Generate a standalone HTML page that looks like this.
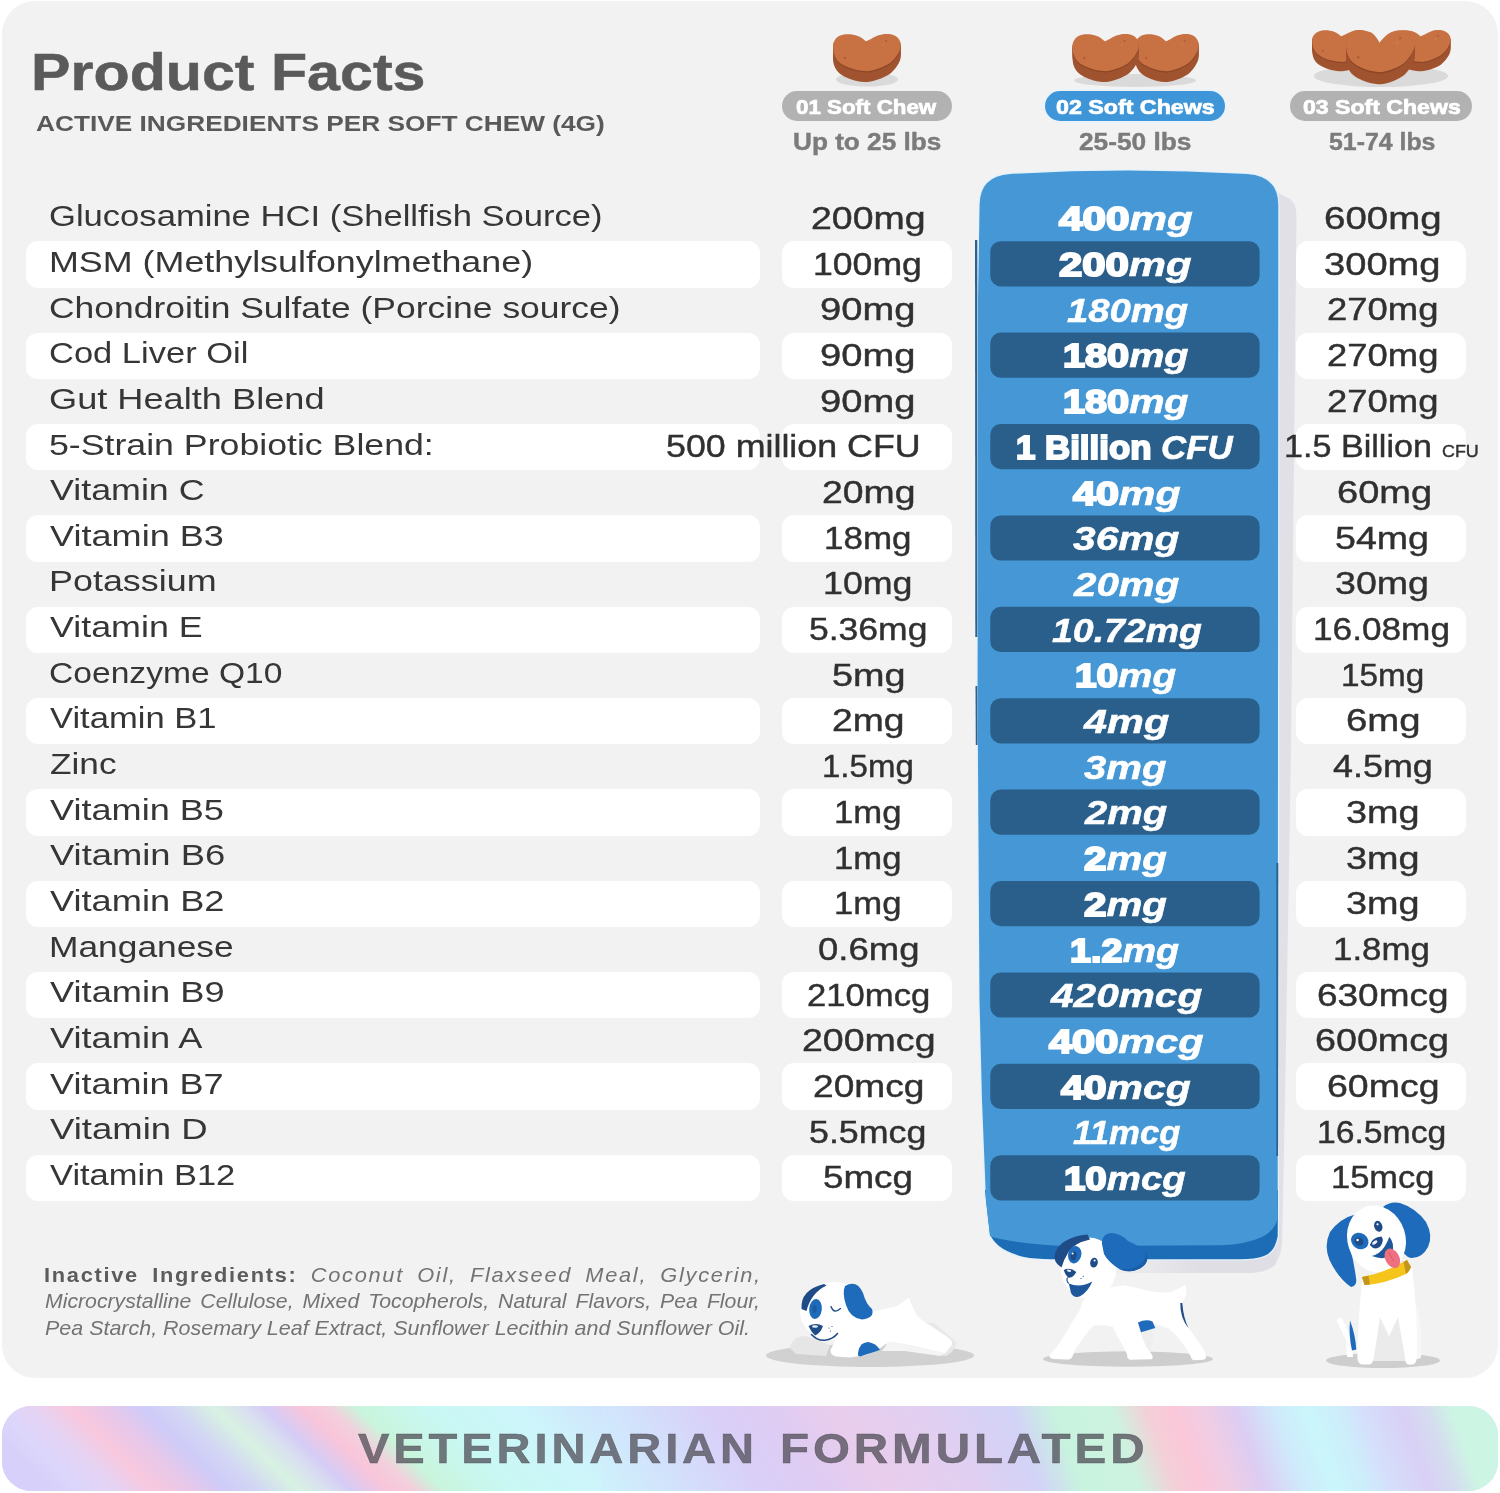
<!DOCTYPE html>
<html lang="en"><head><meta charset="utf-8"><title>Product Facts</title>
<style>
html,body{margin:0;padding:0}
body{width:1500px;height:1493px;background:#fff;position:relative;overflow:hidden;font-family:'Liberation Sans', sans-serif}
.card{position:absolute;left:1.5px;top:1px;width:1496.5px;height:1377px;border-radius:33px;background:#f2f2f2}
.s{position:absolute;height:46.4px;border-radius:12px;background:#fff}
.t{position:absolute;white-space:nowrap;transform-origin:0 0;paint-order:stroke fill}
.hp{position:absolute;top:91px;height:30.3px;border-radius:15.2px}
.banner{position:absolute;left:1.5px;top:1406px;width:1496.5px;height:85px;border-radius:29.5px;overflow:hidden;background:#d8d4f8}
svg.art{position:absolute;left:0;top:0}
.tl{position:absolute;left:0;top:0;width:1500px;height:1493px;will-change:transform;transform:translateZ(0)}
</style></head>
<body>
<div class="card"></div>
<div class="s" style="left:26px;top:241.30px;width:734.0px"></div>
<div class="s" style="left:782px;top:241.30px;width:170.3px"></div>
<div class="s" style="left:1296.3px;top:241.30px;width:170.0px"></div>
<div class="s" style="left:26px;top:332.62px;width:734.0px"></div>
<div class="s" style="left:782px;top:332.62px;width:170.3px"></div>
<div class="s" style="left:1296.3px;top:332.62px;width:170.0px"></div>
<div class="s" style="left:26px;top:423.94px;width:734.0px"></div>
<div class="s" style="left:782px;top:423.94px;width:170.3px"></div>
<div class="s" style="left:1296.3px;top:423.94px;width:170.0px"></div>
<div class="s" style="left:26px;top:515.26px;width:734.0px"></div>
<div class="s" style="left:782px;top:515.26px;width:170.3px"></div>
<div class="s" style="left:1296.3px;top:515.26px;width:170.0px"></div>
<div class="s" style="left:26px;top:606.58px;width:734.0px"></div>
<div class="s" style="left:782px;top:606.58px;width:170.3px"></div>
<div class="s" style="left:1296.3px;top:606.58px;width:170.0px"></div>
<div class="s" style="left:26px;top:697.90px;width:734.0px"></div>
<div class="s" style="left:782px;top:697.90px;width:170.3px"></div>
<div class="s" style="left:1296.3px;top:697.90px;width:170.0px"></div>
<div class="s" style="left:26px;top:789.22px;width:734.0px"></div>
<div class="s" style="left:782px;top:789.22px;width:170.3px"></div>
<div class="s" style="left:1296.3px;top:789.22px;width:170.0px"></div>
<div class="s" style="left:26px;top:880.54px;width:734.0px"></div>
<div class="s" style="left:782px;top:880.54px;width:170.3px"></div>
<div class="s" style="left:1296.3px;top:880.54px;width:170.0px"></div>
<div class="s" style="left:26px;top:971.86px;width:734.0px"></div>
<div class="s" style="left:782px;top:971.86px;width:170.3px"></div>
<div class="s" style="left:1296.3px;top:971.86px;width:170.0px"></div>
<div class="s" style="left:26px;top:1063.18px;width:734.0px"></div>
<div class="s" style="left:782px;top:1063.18px;width:170.3px"></div>
<div class="s" style="left:1296.3px;top:1063.18px;width:170.0px"></div>
<div class="s" style="left:26px;top:1154.50px;width:734.0px"></div>
<div class="s" style="left:782px;top:1154.50px;width:170.3px"></div>
<div class="s" style="left:1296.3px;top:1154.50px;width:170.0px"></div>
<div class="hp" style="left:782.3px;width:169.7px;background:#b2b2b2"></div>
<div class="hp" style="left:1045px;width:180px;background:#3e96d9;box-shadow:0 0 0 2px #e9f3fb"></div>
<div class="hp" style="left:1290.3px;width:182px;background:#b2b2b2"></div>
<svg class="art" width="1500" height="1400" viewBox="0 0 1500 1400">
<defs><linearGradient id="shg" gradientUnits="userSpaceOnUse" x1="1095" y1="0" x2="1200" y2="0"><stop offset="0" stop-color="#dfdee5" stop-opacity="0"/><stop offset="1" stop-color="#dfdee5" stop-opacity="1"/></linearGradient></defs>
<path fill="#e1e0e7" d="M1270 192 L1277 192 L1290 199 Q1296.5 204 1296.5 216 L1291 750 L1285 1100 L1282 1245 Q1280 1262 1270 1268 Z"/>
<path fill="url(#shg)" d="M1095 1250 L1276 1250 L1276 1264 Q1268 1272.5 1250 1273 L1095 1273 Z"/>
<path fill="none" stroke="#e2f1fb" stroke-width="2.6" d="M985 1190 L1278 1190 L1277.7 1236 Q1275 1252 1264 1256 Q1255 1259.2 1240 1259.2 L1052 1259.2 Q1035 1259 1024 1257 Q1008 1253 999 1246 Q992 1240 990 1234 L986 1200 Z"/>
<path fill="none" stroke="#e2f1fb" stroke-width="2.6" d="M979.6 205 Q979.8 176 1010 174 Q1128 167 1247 174 Q1278.3 176 1278.3 205 L1277.7 1219 Q1274 1231 1262 1237 Q1245 1244.5 1222 1245.3 L1068 1246 Q1030 1245 1002 1239.3 Q994 1238 990 1236 L986 1200 L982 1100 L979.5 1000 L977.6 700 L978 300 L979 240 Z"/>
<path fill="#1c6db5" d="M985 1190 L1278 1190 L1277.7 1236 Q1275 1252 1264 1256 Q1255 1259.2 1240 1259.2 L1052 1259.2 Q1035 1259 1024 1257 Q1008 1253 999 1246 Q992 1240 990 1234 L986 1200 Z"/>
<path fill="#4598d5" d="M979.6 205 Q979.8 176 1010 174 Q1128 167 1247 174 Q1278.3 176 1278.3 205 L1277.7 1219 Q1274 1231 1262 1237 Q1245 1244.5 1222 1245.3 L1068 1246 Q1030 1245 1002 1239.3 Q994 1238 990 1236 L986 1200 L982 1100 L979.5 1000 L977.6 700 L978 300 L979 240 Z"/>
<path fill="#2c628f" d="M975 240 L977.3 240 L977.3 637 L975.3 637 Z"/>
<path fill="#2c628f" d="M975.5 686 L977.3 686 L977.6 745 L975.8 745 Z"/>
<path fill="#2c628f" d="M1276.3 863 L1278.3 863 L1278.1 1156 L1276.3 1156 Z"/>
<rect x="990.3" y="241.20" width="269.3" height="45.2" rx="10.5" fill="#2a5f8b"/>
<rect x="990.3" y="332.60" width="269.3" height="45.2" rx="10.5" fill="#2a5f8b"/>
<rect x="990.3" y="424.00" width="269.3" height="45.2" rx="10.5" fill="#2a5f8b"/>
<rect x="990.3" y="515.40" width="269.3" height="45.2" rx="10.5" fill="#2a5f8b"/>
<rect x="990.3" y="606.80" width="269.3" height="45.2" rx="10.5" fill="#2a5f8b"/>
<rect x="990.3" y="698.20" width="269.3" height="45.2" rx="10.5" fill="#2a5f8b"/>
<rect x="990.3" y="789.60" width="269.3" height="45.2" rx="10.5" fill="#2a5f8b"/>
<rect x="990.3" y="881.00" width="269.3" height="45.2" rx="10.5" fill="#2a5f8b"/>
<rect x="990.3" y="972.40" width="269.3" height="45.2" rx="10.5" fill="#2a5f8b"/>
<rect x="990.3" y="1063.80" width="269.3" height="45.2" rx="10.5" fill="#2a5f8b"/>
<rect x="990.3" y="1155.20" width="269.3" height="45.2" rx="10.5" fill="#2a5f8b"/>
<defs><path id="hp" d="M32.8 7.2C30 4.5 27.5 3 24.8 2C21.5.8 18.5.2 15.2.2C12 .2 9.5.7 7.2 1.6C5 2.6 3.4 3.8 2.4 5.2C1 7.2 0 9.2 0 11.6C0 14.5.2 17 .8 19.6C1.5 22 2.6 24 4 26C6 28.5 8.5 30.2 11.2 31.6C14.5 33.3 18 34.6 21.6 35.6C26 36.7 30 37.2 34.4 37.2C39 36.8 43 35.6 47.2 34C50.5 32.7 54 31 56.8 29.2C59.5 27 62 24.2 64 21.2C65.8 18.5 67.2 16 67.6 13.2C68 10.5 67.6 8 66.4 6C65.2 4 63.6 2.6 61.6 1.6C59 .4 56.5 0 53.6 0C50.5 0 47.5.6 44.8 1.6C42 2.7 39.6 3.8 37.6 5.2C35.8 6 34 7 32.8 7.2Z"/><path id="hp2" d="M32.8 11C31 7.8 28.2 4 24.8 2C21.5.8 18.5.2 15.2.2C12 .2 9.5.7 7.2 1.6C5 2.6 3.4 3.8 2.4 5.2C1 7.2 0 9.2 0 11.6C0 14.5.2 17 .8 19.6C1.5 22 2.6 24 4 26C6 28.5 8.5 30.2 11.2 31.6C14.5 33.3 18 34.6 21.6 35.6C26 36.7 30 37.2 34.4 37.2C39 36.8 43 35.6 47.2 34C50.5 32.7 54 31 56.8 29.2C59.5 27 62 24.2 64 21.2C65.8 18.5 67.2 16 67.6 13.2C68 10.5 67.6 8 66.4 6C65.2 4 63.6 2.6 61.6 1.6C59 .4 56.5 0 53.6 0C50.5 0 47.5.6 44.8 1.6C42 2.7 39.8 4.2 37.8 6C35.6 8 34 9.6 32.8 11Z"/></defs>
<ellipse cx="867" cy="79.5" rx="31" ry="7" fill="#dadada"/>
<ellipse cx="1135" cy="80.5" rx="61" ry="6.5" fill="#dadada"/>
<ellipse cx="1381" cy="76" rx="67" ry="11" fill="#dadada"/>
<g transform="translate(833 34) scale(1.0 1.0)"><use href="#hp" y="10.80" fill="#a0532f"/><use href="#hp" y="8.64" fill="#a0532f"/><use href="#hp" y="6.48" fill="#a0532f"/><use href="#hp" y="4.32" fill="#a0532f"/><use href="#hp" y="2.16" fill="#a0532f"/><use href="#hp" y="1.2" fill="#8c4627"/><use href="#hp" fill="#c87142"/><circle cx="53" cy="7" r="1.1" fill="#b05f36"/><circle cx="12" cy="24" r="1.2" fill="#b05f36"/><circle cx="50" cy="11" r="0.8" fill="#d98557"/></g>
<g transform="translate(1135 34) scale(0.94 1)"><use href="#hp" y="10.80" fill="#a0532f"/><use href="#hp" y="8.64" fill="#a0532f"/><use href="#hp" y="6.48" fill="#a0532f"/><use href="#hp" y="4.32" fill="#a0532f"/><use href="#hp" y="2.16" fill="#a0532f"/><use href="#hp" y="1.2" fill="#8c4627"/><use href="#hp" fill="#c87142"/><circle cx="53" cy="7" r="1.1" fill="#b05f36"/><circle cx="12" cy="24" r="1.2" fill="#b05f36"/><circle cx="50" cy="11" r="0.8" fill="#d98557"/></g>
<g transform="translate(1072.5 34) scale(0.98 1)"><use href="#hp" y="10.80" fill="#a0532f"/><use href="#hp" y="8.64" fill="#a0532f"/><use href="#hp" y="6.48" fill="#a0532f"/><use href="#hp" y="4.32" fill="#a0532f"/><use href="#hp" y="2.16" fill="#a0532f"/><use href="#hp" y="1.2" fill="#8c4627"/><use href="#hp" fill="#c87142"/><circle cx="53" cy="7" r="1.1" fill="#b05f36"/><circle cx="12" cy="24" r="1.2" fill="#b05f36"/><circle cx="50" cy="11" r="0.8" fill="#d98557"/></g>
<g transform="translate(1312.2 30) scale(0.88 0.86)"><use href="#hp" y="10.80" fill="#a0532f"/><use href="#hp" y="8.64" fill="#a0532f"/><use href="#hp" y="6.48" fill="#a0532f"/><use href="#hp" y="4.32" fill="#a0532f"/><use href="#hp" y="2.16" fill="#a0532f"/><use href="#hp" y="1.2" fill="#8c4627"/><use href="#hp" fill="#c87142"/><circle cx="53" cy="7" r="1.1" fill="#b05f36"/><circle cx="12" cy="24" r="1.2" fill="#b05f36"/><circle cx="50" cy="11" r="0.8" fill="#d98557"/></g>
<g transform="translate(1392.3 30) scale(0.86 0.86)"><use href="#hp" y="10.80" fill="#a0532f"/><use href="#hp" y="8.64" fill="#a0532f"/><use href="#hp" y="6.48" fill="#a0532f"/><use href="#hp" y="4.32" fill="#a0532f"/><use href="#hp" y="2.16" fill="#a0532f"/><use href="#hp" y="1.2" fill="#8c4627"/><use href="#hp" fill="#c87142"/><circle cx="53" cy="7" r="1.1" fill="#b05f36"/><circle cx="12" cy="24" r="1.2" fill="#b05f36"/><circle cx="50" cy="11" r="0.8" fill="#d98557"/></g>
<g transform="translate(1346 30.3) scale(1.02 1.125)"><use href="#hp2" y="10.80" fill="#a0532f"/><use href="#hp2" y="8.64" fill="#a0532f"/><use href="#hp2" y="6.48" fill="#a0532f"/><use href="#hp2" y="4.32" fill="#a0532f"/><use href="#hp2" y="2.16" fill="#a0532f"/><use href="#hp2" y="1.2" fill="#8c4627"/><use href="#hp2" fill="#c87142"/><circle cx="53" cy="7" r="1.1" fill="#b05f36"/><circle cx="12" cy="24" r="1.2" fill="#b05f36"/><circle cx="50" cy="11" r="0.8" fill="#d98557"/></g>
<ellipse cx="870" cy="1355.5" rx="104" ry="11.5" fill="#d1d1d1"/>
<path fill="#e6e6e6" d="M790 1348 Q792 1336 806 1336 L830 1345 L826 1356 L796 1354 Z"/>
<path fill="#e8e8e8" d="M905 1338 Q925 1320 934 1323 Q945 1332 957 1343 L952 1352 L946 1356 L900 1350 Z"/>
<path fill="#fff" d="M845 1322 L872.5 1311.7 L883.3 1309.2 L895 1306.7 Q900 1305 903.3 1301.7 L908.3 1297.7 Q910 1299 910.8 1303.3 L916.7 1315 Q921 1320 926.7 1323.3 L938.3 1330.8 L948.3 1337.5 Q952.5 1340.5 952 1344 Q951 1347 949.2 1348.3 L945 1353.3 L933.3 1350.8 L916.7 1346.7 L900 1343.3 L888.3 1342 L880 1348.3 L866.7 1355 L850 1357.5 L836 1356.5 Q830 1355 830.5 1350 Z"/>
<path fill="#f4f4f4" d="M888.3 1342 L900 1343.3 L933.3 1350.8 L945 1353.3 L940 1356 L905 1351 L882 1351 Z"/>
<ellipse cx="832.5" cy="1311" rx="32.5" ry="29" fill="#fff" transform="rotate(-8 832 1311)"/>
<path fill="#1f4b87" d="M801.5 1309 Q800 1290 824 1284 L826.5 1285.5 Q811 1293 806.5 1311 Z"/>
<ellipse cx="815.5" cy="1309" rx="6.3" ry="10" fill="#1e6bbb" transform="rotate(6 815 1309)"/>
<ellipse cx="814.5" cy="1309" rx="2" ry="4" fill="#195ca4"/>
<path fill="#1e6bbb" d="M845 1286 Q857 1279 863 1293 Q866 1304 872 1309 Q875 1318 862 1319.5 Q850 1318 846 1305 Q842 1293 845 1286 Z"/>
<path fill="none" stroke="#1f4b87" stroke-width="1.3" stroke-linecap="round" d="M831 1306.5 Q834 1314.5 840.5 1308.5"/>
<path fill="#1f4b87" d="M808.5 1326 Q816 1322 823 1326 Q820 1334 815 1335.5 Q811 1332 808.5 1326 Z"/>
<ellipse cx="815" cy="1326.5" rx="3" ry="1.3" fill="#e8eef6"/>
<path fill="none" stroke="#1f4b87" stroke-width="1.6" stroke-linecap="round" d="M811.5 1334.5 Q818 1341.5 826 1340 Q833 1339 837.5 1333.5"/>
<circle cx="829" cy="1328" r=".6" fill="#1f4b87"/><circle cx="832" cy="1326.5" r=".6" fill="#1f4b87"/><circle cx="830.5" cy="1331" r=".6" fill="#1f4b87"/>
<path fill="#1e6bbb" d="M858 1355.5 Q858 1343 868 1342 Q876 1343 880 1350 L860 1356.5 Z"/>
<ellipse cx="1128" cy="1359" rx="85" ry="7.7" fill="#cecece"/>
<path fill="#efefef" d="M1140 1328 L1154 1326 L1153 1340 L1150 1354 L1143 1354 Z"/>
<path fill="#fff" d="M1086 1298 Q1100 1288 1123.3 1285.3 L1136.7 1288 L1150 1291.3 L1163.3 1292.7 L1171.3 1292 L1179.3 1288 L1185.5 1284.8 L1186.5 1292 Q1186 1299 1180.7 1302.7 Q1179.5 1311 1183.3 1321.3 Q1186 1326 1188.7 1328 L1195.3 1337.3 L1202 1346.7 Q1206 1353 1206.3 1356.5 Q1206 1359.5 1203 1359.8 L1194 1360.3 Q1191 1359.5 1191 1357 L1186 1348 L1176.7 1336 L1168.7 1328.5 L1160.7 1325.5 L1152 1323 L1137 1321.5 L1140.7 1333.3 L1146 1346.7 L1152 1354.7 Q1154 1358.5 1151 1359.3 L1130 1359.8 Q1126.5 1358.5 1127.3 1354.7 L1123.3 1346.7 L1118 1337.3 L1112.7 1326.7 L1104.7 1325.3 L1094 1325.5 L1088.7 1330.7 L1082 1340 L1075.3 1349.3 L1072.7 1356 Q1071.5 1359.3 1068 1359.6 L1053 1359 Q1048.5 1358 1050 1354.5 L1056.7 1346.7 L1064.7 1334.7 L1072.7 1321.3 L1079.3 1310.7 L1083.3 1300 Z"/>
<path fill="#1e6bbb" d="M1138 1322.5 Q1146 1318.5 1152.5 1321.5 L1155.3 1328 L1141 1332.3 Z"/>
<path fill="#1f4b87" d="M1180.3 1303 Q1180 1318 1188.8 1328.5 Q1183.5 1319 1182.3 1303 Z"/>
<ellipse cx="1088.5" cy="1268" rx="28" ry="30.5" fill="#fff"/>
<path fill="#1f4b87" d="M1061.5 1267.5 Q1052 1262 1055.5 1252 Q1062 1237 1087.5 1234.5 L1090 1239.5 Q1074 1243 1068.5 1252 Q1063.5 1260 1061.5 1267.5 Z"/>
<ellipse cx="1074.7" cy="1254.7" rx="6.6" ry="8.8" fill="#1e6bbb" transform="rotate(14 1074.7 1254.7)"/>
<ellipse cx="1073.6" cy="1256" rx="3" ry="4.5" fill="#1f4b87" transform="rotate(14 1073.6 1256)"/>
<circle cx="1072.6" cy="1253.6" r="1" fill="#fff"/>
<ellipse cx="1094" cy="1262.7" rx="3.8" ry="4.9" fill="#1f4b87" transform="rotate(10 1094 1262.7)"/>
<circle cx="1094.6" cy="1260.4" r="1" fill="#fff"/>
<path fill="#1e6bbb" d="M1102 1244 Q1101.5 1234 1111 1233 Q1120 1233 1128 1241 Q1140 1246 1146 1253 Q1150.5 1262 1140 1268.5 Q1130 1273.5 1120 1269.5 Q1108 1262 1104 1254 Z"/>
<path fill="#1a5ea7" d="M1146 1253 Q1150.5 1262 1140 1268.5 Q1130 1273.5 1120 1269.5 Q1132 1270 1139 1265 Q1146 1260 1146 1253 Z"/>
<path fill="#1f4b87" d="M1063.8 1270 Q1070 1266.5 1076.3 1272 Q1073 1278.5 1068 1277.5 Q1065 1275 1063.8 1270 Z"/>
<ellipse cx="1069" cy="1270.8" rx="2.2" ry="1.1" fill="#e8eef6" transform="rotate(15 1069 1270.8)"/>
<path fill="none" stroke="#1f4b87" stroke-width="1.1" d="M1067.5 1277.5 Q1066 1281 1068.8 1283.5"/>
<path fill="#1f579b" d="M1068.8 1283.5 Q1080 1288.5 1092.3 1281.5 Q1088 1292 1080 1296.3 Q1074 1298.5 1071 1293 Z"/>
<circle cx="1081" cy="1278.5" r=".6" fill="#1f4b87"/><circle cx="1083.2" cy="1276.3" r=".6" fill="#1f4b87"/>
<ellipse cx="1383" cy="1360.5" rx="57" ry="7.6" fill="#cecece"/>
<path fill="#fff" d="M1336.5 1320 Q1340 1316 1343 1320.5 L1352 1339 L1353 1357 L1347 1357 L1346 1340 Z"/>
<path fill="#1e6bbb" d="M1350 1320.5 Q1355.5 1335 1356.3 1349.5 L1352 1350.5 Q1348.5 1335 1350 1320.5 Z"/>
<path fill="#ebebeb" d="M1376 1318 L1402 1318 L1409 1361 L1370 1361 Z"/>
<path fill="#f7f7f7" d="M1414 1300 Q1423 1320 1421 1358 L1414 1360 Z"/>
<path fill="#fff" d="M1362 1282 L1412 1268 Q1417.5 1310 1417 1355 Q1417 1364.5 1412 1364.5 L1408 1364.5 Q1405 1364 1405 1357 L1398 1317 L1389 1336.5 L1380 1317 L1374 1357 Q1373 1364.5 1369 1364.5 L1362 1364.5 Q1357 1364 1357.3 1355 Q1358 1320 1362 1282 Z"/>
<path fill="#1e6bbb" d="M1357 1214 Q1340 1218 1330 1232 Q1323.5 1246 1329.5 1260 Q1338 1278 1351 1287 Q1357.5 1286 1356 1278 Q1354 1262 1350 1248 Q1345 1232 1352 1220 Z"/>
<path fill="#1e6bbb" d="M1383 1207 Q1390 1201 1400 1203 Q1416 1208 1426 1222 Q1433.5 1236 1428 1247 Q1422 1258.5 1411 1258 Q1403 1256 1401 1246 Q1400 1232 1394 1222 Q1388 1213 1383 1207 Z"/>
<ellipse cx="1376.5" cy="1239" rx="29" ry="34" fill="#fff" transform="rotate(-18 1376.5 1239)"/>
<path fill="#f6c51c" d="M1362 1277 Q1385 1273 1407 1260 L1411 1267 Q1409 1272 1406 1274 Q1385 1284 1364.5 1285 Z"/>
<path fill="#c4951c" d="M1362 1277 L1368.5 1275.8 L1370 1284.5 L1364.5 1285 Z"/>
<path fill="#c4951c" d="M1403.5 1262 L1407 1260 L1411 1267 Q1409 1272 1406 1274 Z"/>
<ellipse cx="1359.8" cy="1241" rx="9.2" ry="7.8" fill="#1e6bbb" transform="rotate(35 1359.8 1241)"/>
<ellipse cx="1359" cy="1241.5" rx="4.6" ry="4" fill="#1f4b87" transform="rotate(35 1359 1241.5)"/>
<circle cx="1357.6" cy="1240" r="1.2" fill="#fff"/>
<ellipse cx="1378.3" cy="1226.3" rx="4" ry="5.6" fill="#1f4b87" transform="rotate(-20 1378.3 1226.3)"/>
<circle cx="1377.5" cy="1224.3" r="1.1" fill="#fff"/>
<path fill="#1f579b" d="M1371.8 1256 Q1380 1254 1385 1246 Q1388 1241 1389.3 1236.8 Q1395.3 1244 1392 1253 Q1386 1261.5 1371.8 1256 Z"/>
<path fill="#1f4b87" d="M1369.8 1245 Q1372.3 1237.3 1381.5 1236.6 Q1384.8 1241 1380 1246.8 Q1374.3 1250.8 1369.8 1245 Z"/>
<ellipse cx="1374.8" cy="1242.6" rx="3" ry="1.5" fill="#eef2f8" transform="rotate(-35 1374.8 1242.6)"/>
<ellipse cx="1392.3" cy="1258.3" rx="7" ry="10.3" fill="#ef7080" transform="rotate(-28 1392.3 1258.3)"/>
<path fill="none" stroke="#d95a6c" stroke-width="1" d="M1388.5 1252 L1393.5 1261"/>
</svg>
<div class="banner"><div style="position:absolute;left:0px;top:0;width:600px;height:85px;background:linear-gradient(44deg,#d6d0fa -12px,#d6d0fa 30px,#dcd6fb 57px,#e6d3f3 82px,#f8c8de 107px,#e6c8ea 134px,#cfcbf8 157px,#d2d6f4 179px,#d8f2e2 207px,#d9dff0 228px,#d5ccf6 243px,#f9c5da 269px,#f3cfdc 287px,#c9f5dc 307px,#c9f8f4 356px,#cdf5fb 419px,#d2e2fc 481px,#d9d0f8 537px)"></div><div style="position:absolute;left:600px;top:0;width:390px;height:85px;background:linear-gradient(57deg,#c9f8f4 -87px,#cdf5fb -12px,#d2e2fc 64px,#d9d0f8 131px,#deccf4 181px,#e9cdec 240px,#e1cff1 315px,#d2d3f7 378px,#c8f3df 414px)"></div><div style="position:absolute;left:990px;top:0;width:506.5px;height:85px;background:linear-gradient(70deg,#e9cdec -109px,#e1cff1 -24px,#d2d3f7 46px,#c8f3df 86px,#cdf3e0 140px,#f3d0d8 173px,#fbc7d9 198px,#f1cde3 224px,#dccdf3 257px,#cfeafb 293px,#caf6fb 323px,#cdeefb 351px,#d5dffb 376px,#d9d0f6 412px,#d5dcef 436px,#cdf5e4 460px,#cdf5e4 549px)"></div></div>
<div class="tl">
<div class="t" style="left:31.37px;top:46.28px;font-size:52px;line-height:52px;color:#5a5a5a;transform:scaleX(1.1378)"><span style="font-weight:700;-webkit-text-stroke:0.5px currentColor">Product Facts</span></div>
<div class="t" style="left:35.50px;top:113.32px;font-size:21.6px;line-height:21.6px;color:#595959;transform:scaleX(1.2155)"><span style="font-weight:700">ACTIVE INGREDIENTS PER SOFT CHEW (4G)</span></div>
<div class="t" style="left:795.88px;top:96.76px;font-size:20.6px;line-height:20.6px;color:#fff;transform:scaleX(1.0841)"><span style="font-weight:700;-webkit-text-stroke:0.7px currentColor">01 Soft Chew</span></div>
<div class="t" style="left:1056.39px;top:96.76px;font-size:20.6px;line-height:20.6px;color:#fff;transform:scaleX(1.1276)"><span style="font-weight:700;-webkit-text-stroke:0.7px currentColor">02 Soft Chews</span></div>
<div class="t" style="left:1302.89px;top:96.76px;font-size:20.6px;line-height:20.6px;color:#fff;transform:scaleX(1.1205)"><span style="font-weight:700;-webkit-text-stroke:0.7px currentColor">03 Soft Chews</span></div>
<div class="t" style="left:792.79px;top:130.93px;font-size:23px;line-height:23px;color:#7b7b7b;transform:scaleX(1.1376)"><span style="font-weight:700;-webkit-text-stroke:0.4px currentColor">Up to 25 lbs</span></div>
<div class="t" style="left:1079.23px;top:130.93px;font-size:23px;line-height:23px;color:#7b7b7b;transform:scaleX(1.1422)"><span style="font-weight:700;-webkit-text-stroke:0.4px currentColor">25-50 lbs</span></div>
<div class="t" style="left:1329.22px;top:130.93px;font-size:23px;line-height:23px;color:#7b7b7b;transform:scaleX(1.0810)"><span style="font-weight:700;-webkit-text-stroke:0.4px currentColor">51-74 lbs</span></div>
<div class="t" style="left:49.05px;top:201.20px;font-size:30px;line-height:30px;color:#363636;transform:scaleX(1.1529)">Glucosamine HCI (Shellfish Source)</div>
<div class="t" style="left:49.11px;top:246.86px;font-size:30px;line-height:30px;color:#363636;transform:scaleX(1.1949)">MSM (Methylsulfonylmethane)</div>
<div class="t" style="left:49.02px;top:292.52px;font-size:30px;line-height:30px;color:#363636;transform:scaleX(1.1821)">Chondroitin Sulfate (Porcine source)</div>
<div class="t" style="left:49.05px;top:338.19px;font-size:30px;line-height:30px;color:#363636;transform:scaleX(1.1498)">Cod Liver Oil</div>
<div class="t" style="left:48.99px;top:383.85px;font-size:30px;line-height:30px;color:#363636;transform:scaleX(1.2060)">Gut Health Blend</div>
<div class="t" style="left:49.01px;top:429.50px;font-size:30px;line-height:30px;color:#363636;transform:scaleX(1.1894)">5-Strain Probiotic Blend:</div>
<div class="t" style="left:50.20px;top:475.16px;font-size:30px;line-height:30px;color:#363636;transform:scaleX(1.1938)">Vitamin C</div>
<div class="t" style="left:50.20px;top:520.83px;font-size:30px;line-height:30px;color:#363636;transform:scaleX(1.2034)">Vitamin B3</div>
<div class="t" style="left:49.11px;top:566.49px;font-size:30px;line-height:30px;color:#363636;transform:scaleX(1.1965)">Potassium</div>
<div class="t" style="left:50.20px;top:612.14px;font-size:30px;line-height:30px;color:#363636;transform:scaleX(1.1945)">Vitamin E</div>
<div class="t" style="left:49.08px;top:657.80px;font-size:30px;line-height:30px;color:#363636;transform:scaleX(1.1202)">Coenzyme Q10</div>
<div class="t" style="left:50.20px;top:703.47px;font-size:30px;line-height:30px;color:#363636;transform:scaleX(1.1527)">Vitamin B1</div>
<div class="t" style="left:50.20px;top:749.12px;font-size:30px;line-height:30px;color:#363636;transform:scaleX(1.1751)">Zinc</div>
<div class="t" style="left:50.20px;top:794.78px;font-size:30px;line-height:30px;color:#363636;transform:scaleX(1.2034)">Vitamin B5</div>
<div class="t" style="left:50.20px;top:840.45px;font-size:30px;line-height:30px;color:#363636;transform:scaleX(1.2118)">Vitamin B6</div>
<div class="t" style="left:50.20px;top:886.11px;font-size:30px;line-height:30px;color:#363636;transform:scaleX(1.2069)">Vitamin B2</div>
<div class="t" style="left:49.14px;top:931.76px;font-size:30px;line-height:30px;color:#363636;transform:scaleX(1.1778)">Manganese</div>
<div class="t" style="left:50.20px;top:977.42px;font-size:30px;line-height:30px;color:#363636;transform:scaleX(1.2083)">Vitamin B9</div>
<div class="t" style="left:50.20px;top:1023.08px;font-size:30px;line-height:30px;color:#363636;transform:scaleX(1.2071)">Vitamin A</div>
<div class="t" style="left:50.20px;top:1068.74px;font-size:30px;line-height:30px;color:#363636;transform:scaleX(1.2014)">Vitamin B7</div>
<div class="t" style="left:50.20px;top:1114.40px;font-size:30px;line-height:30px;color:#363636;transform:scaleX(1.2171)">Vitamin D</div>
<div class="t" style="left:50.20px;top:1160.06px;font-size:30px;line-height:30px;color:#363636;transform:scaleX(1.1494)">Vitamin B12</div>
<div class="t" style="left:810.56px;top:202.94px;font-size:31.5px;line-height:31.5px;color:#303030;transform:scaleX(1.1898)"><span style="-webkit-text-stroke:0.42px currentColor">200mg</span></div>
<div class="t" style="left:812.98px;top:248.62px;font-size:31.5px;line-height:31.5px;color:#303030;transform:scaleX(1.1307)"><span style="-webkit-text-stroke:0.42px currentColor">100mg</span></div>
<div class="t" style="left:820.24px;top:294.31px;font-size:31.5px;line-height:31.5px;color:#303030;transform:scaleX(1.2100)"><span style="-webkit-text-stroke:0.42px currentColor">90mg</span></div>
<div class="t" style="left:820.24px;top:339.99px;font-size:31.5px;line-height:31.5px;color:#303030;transform:scaleX(1.2100)"><span style="-webkit-text-stroke:0.42px currentColor">90mg</span></div>
<div class="t" style="left:820.24px;top:385.68px;font-size:31.5px;line-height:31.5px;color:#303030;transform:scaleX(1.2100)"><span style="-webkit-text-stroke:0.42px currentColor">90mg</span></div>
<div class="t" style="left:666.10px;top:431.36px;font-size:31.5px;line-height:31.5px;color:#303030;transform:scaleX(1.1365)"><span style="-webkit-text-stroke:0.42px currentColor">500 million CFU</span></div>
<div class="t" style="left:821.56px;top:477.05px;font-size:31.5px;line-height:31.5px;color:#303030;transform:scaleX(1.1865)"><span style="-webkit-text-stroke:0.42px currentColor">20mg</span></div>
<div class="t" style="left:824.01px;top:522.73px;font-size:31.5px;line-height:31.5px;color:#303030;transform:scaleX(1.1097)"><span style="-webkit-text-stroke:0.42px currentColor">18mg</span></div>
<div class="t" style="left:822.97px;top:568.42px;font-size:31.5px;line-height:31.5px;color:#303030;transform:scaleX(1.1361)"><span style="-webkit-text-stroke:0.42px currentColor">10mg</span></div>
<div class="t" style="left:809.11px;top:614.10px;font-size:31.5px;line-height:31.5px;color:#303030;transform:scaleX(1.1266)"><span style="-webkit-text-stroke:0.42px currentColor">5.36mg</span></div>
<div class="t" style="left:831.55px;top:659.79px;font-size:31.5px;line-height:31.5px;color:#303030;transform:scaleX(1.1998)"><span style="-webkit-text-stroke:0.42px currentColor">5mg</span></div>
<div class="t" style="left:831.57px;top:705.47px;font-size:31.5px;line-height:31.5px;color:#303030;transform:scaleX(1.1829)"><span style="-webkit-text-stroke:0.42px currentColor">2mg</span></div>
<div class="t" style="left:822.12px;top:751.16px;font-size:31.5px;line-height:31.5px;color:#303030;transform:scaleX(1.0480)"><span style="-webkit-text-stroke:0.42px currentColor">1.5mg</span></div>
<div class="t" style="left:834.03px;top:796.84px;font-size:31.5px;line-height:31.5px;color:#303030;transform:scaleX(1.1001)"><span style="-webkit-text-stroke:0.42px currentColor">1mg</span></div>
<div class="t" style="left:834.03px;top:842.53px;font-size:31.5px;line-height:31.5px;color:#303030;transform:scaleX(1.1001)"><span style="-webkit-text-stroke:0.42px currentColor">1mg</span></div>
<div class="t" style="left:834.03px;top:888.21px;font-size:31.5px;line-height:31.5px;color:#303030;transform:scaleX(1.1001)"><span style="-webkit-text-stroke:0.42px currentColor">1mg</span></div>
<div class="t" style="left:817.58px;top:933.90px;font-size:31.5px;line-height:31.5px;color:#303030;transform:scaleX(1.1586)"><span style="-webkit-text-stroke:0.42px currentColor">0.6mg</span></div>
<div class="t" style="left:806.63px;top:979.58px;font-size:31.5px;line-height:31.5px;color:#303030;transform:scaleX(1.1003)"><span style="-webkit-text-stroke:0.42px currentColor">210mcg</span></div>
<div class="t" style="left:801.56px;top:1025.27px;font-size:31.5px;line-height:31.5px;color:#303030;transform:scaleX(1.1913)"><span style="-webkit-text-stroke:0.42px currentColor">200mcg</span></div>
<div class="t" style="left:812.57px;top:1070.95px;font-size:31.5px;line-height:31.5px;color:#303030;transform:scaleX(1.1790)"><span style="-webkit-text-stroke:0.42px currentColor">20mcg</span></div>
<div class="t" style="left:809.10px;top:1116.64px;font-size:31.5px;line-height:31.5px;color:#303030;transform:scaleX(1.1364)"><span style="-webkit-text-stroke:0.42px currentColor">5.5mcg</span></div>
<div class="t" style="left:823.08px;top:1162.32px;font-size:31.5px;line-height:31.5px;color:#303030;transform:scaleX(1.1678)"><span style="-webkit-text-stroke:0.42px currentColor">5mcg</span></div>
<div class="t" style="left:1324.04px;top:202.94px;font-size:31.5px;line-height:31.5px;color:#303030;transform:scaleX(1.2206)"><span style="-webkit-text-stroke:0.42px currentColor">600mg</span></div>
<div class="t" style="left:1324.04px;top:248.62px;font-size:31.5px;line-height:31.5px;color:#303030;transform:scaleX(1.2100)"><span style="-webkit-text-stroke:0.42px currentColor">300mg</span></div>
<div class="t" style="left:1326.59px;top:294.31px;font-size:31.5px;line-height:31.5px;color:#303030;transform:scaleX(1.1569)"><span style="-webkit-text-stroke:0.42px currentColor">270mg</span></div>
<div class="t" style="left:1326.59px;top:339.99px;font-size:31.5px;line-height:31.5px;color:#303030;transform:scaleX(1.1569)"><span style="-webkit-text-stroke:0.42px currentColor">270mg</span></div>
<div class="t" style="left:1326.59px;top:385.68px;font-size:31.5px;line-height:31.5px;color:#303030;transform:scaleX(1.1569)"><span style="-webkit-text-stroke:0.42px currentColor">270mg</span></div>
<div class="t" style="left:1336.55px;top:477.05px;font-size:31.5px;line-height:31.5px;color:#303030;transform:scaleX(1.2060)"><span style="-webkit-text-stroke:0.42px currentColor">60mg</span></div>
<div class="t" style="left:1335.06px;top:522.73px;font-size:31.5px;line-height:31.5px;color:#303030;transform:scaleX(1.1930)"><span style="-webkit-text-stroke:0.42px currentColor">54mg</span></div>
<div class="t" style="left:1335.06px;top:568.42px;font-size:31.5px;line-height:31.5px;color:#303030;transform:scaleX(1.1930)"><span style="-webkit-text-stroke:0.42px currentColor">30mg</span></div>
<div class="t" style="left:1313.00px;top:614.10px;font-size:31.5px;line-height:31.5px;color:#303030;transform:scaleX(1.1173)"><span style="-webkit-text-stroke:0.42px currentColor">16.08mg</span></div>
<div class="t" style="left:1340.61px;top:659.79px;font-size:31.5px;line-height:31.5px;color:#303030;transform:scaleX(1.0568)"><span style="-webkit-text-stroke:0.42px currentColor">15mg</span></div>
<div class="t" style="left:1345.54px;top:705.47px;font-size:31.5px;line-height:31.5px;color:#303030;transform:scaleX(1.2167)"><span style="-webkit-text-stroke:0.42px currentColor">6mg</span></div>
<div class="t" style="left:1332.74px;top:751.16px;font-size:31.5px;line-height:31.5px;color:#303030;transform:scaleX(1.1394)"><span style="-webkit-text-stroke:0.42px currentColor">4.5mg</span></div>
<div class="t" style="left:1345.55px;top:796.84px;font-size:31.5px;line-height:31.5px;color:#303030;transform:scaleX(1.1998)"><span style="-webkit-text-stroke:0.42px currentColor">3mg</span></div>
<div class="t" style="left:1345.55px;top:842.53px;font-size:31.5px;line-height:31.5px;color:#303030;transform:scaleX(1.1998)"><span style="-webkit-text-stroke:0.42px currentColor">3mg</span></div>
<div class="t" style="left:1345.55px;top:888.21px;font-size:31.5px;line-height:31.5px;color:#303030;transform:scaleX(1.1998)"><span style="-webkit-text-stroke:0.42px currentColor">3mg</span></div>
<div class="t" style="left:1333.02px;top:933.90px;font-size:31.5px;line-height:31.5px;color:#303030;transform:scaleX(1.1072)"><span style="-webkit-text-stroke:0.42px currentColor">1.8mg</span></div>
<div class="t" style="left:1316.57px;top:979.58px;font-size:31.5px;line-height:31.5px;color:#303030;transform:scaleX(1.1731)"><span style="-webkit-text-stroke:0.42px currentColor">630mcg</span></div>
<div class="t" style="left:1315.06px;top:1025.27px;font-size:31.5px;line-height:31.5px;color:#303030;transform:scaleX(1.1958)"><span style="-webkit-text-stroke:0.42px currentColor">600mcg</span></div>
<div class="t" style="left:1326.56px;top:1070.95px;font-size:31.5px;line-height:31.5px;color:#303030;transform:scaleX(1.1899)"><span style="-webkit-text-stroke:0.42px currentColor">60mcg</span></div>
<div class="t" style="left:1317.08px;top:1116.64px;font-size:31.5px;line-height:31.5px;color:#303030;transform:scaleX(1.0704)"><span style="-webkit-text-stroke:0.42px currentColor">16.5mcg</span></div>
<div class="t" style="left:1330.54px;top:1162.32px;font-size:31.5px;line-height:31.5px;color:#303030;transform:scaleX(1.0935)"><span style="-webkit-text-stroke:0.42px currentColor">15mcg</span></div>
<div class="t" style="left:1284.06px;top:431.36px;font-size:31.5px;line-height:31.5px;color:#303030;transform:scaleX(1.0833)"><span style="-webkit-text-stroke:0.42px currentColor">1.5 Billion</span></div>
<div class="t" style="left:1442.21px;top:443.80px;font-size:16.8px;line-height:16.8px;color:#303030;transform:scaleX(1.0660)"><span style="-webkit-text-stroke:0.4px currentColor">CFU</span></div>
<div class="t" style="left:1059.26px;top:202.24px;font-size:33.5px;line-height:33.5px;color:#fff;transform:scaleX(1.2593)"><span style="font-weight:700;-webkit-text-stroke:2.0px currentColor">400</span><span style="font-weight:700;font-style:italic;-webkit-text-stroke:0.6px currentColor">mg</span></div>
<div class="t" style="left:1059.20px;top:247.95px;font-size:33.5px;line-height:33.5px;color:#fff;transform:scaleX(1.2486)"><span style="font-weight:700;-webkit-text-stroke:2.0px currentColor">200</span><span style="font-weight:700;font-style:italic;-webkit-text-stroke:0.6px currentColor">mg</span></div>
<div class="t" style="left:1066.69px;top:293.66px;font-size:33.5px;line-height:33.5px;color:#fff;transform:scaleX(1.1415)"><span style="font-weight:700;font-style:italic;-webkit-text-stroke:0.5px currentColor">180mg</span></div>
<div class="t" style="left:1062.82px;top:339.37px;font-size:33.5px;line-height:33.5px;color:#fff;transform:scaleX(1.1828)"><span style="font-weight:700;-webkit-text-stroke:2.0px currentColor">180</span><span style="font-weight:700;font-style:italic;-webkit-text-stroke:0.6px currentColor">mg</span></div>
<div class="t" style="left:1062.82px;top:385.08px;font-size:33.5px;line-height:33.5px;color:#fff;transform:scaleX(1.1828)"><span style="font-weight:700;-webkit-text-stroke:2.0px currentColor">180</span><span style="font-weight:700;font-style:italic;-webkit-text-stroke:0.6px currentColor">mg</span></div>
<div class="t" style="left:1016.46px;top:430.79px;font-size:33.5px;line-height:33.5px;color:#fff;transform:scaleX(1.0394)"><span style="font-weight:700;-webkit-text-stroke:2.0px currentColor">1 Billion </span><span style="font-weight:700;font-style:italic;-webkit-text-stroke:0.6px currentColor">CFU</span></div>
<div class="t" style="left:1072.73px;top:476.50px;font-size:33.5px;line-height:33.5px;color:#fff;transform:scaleX(1.2297)"><span style="font-weight:700;-webkit-text-stroke:2.0px currentColor">40</span><span style="font-weight:700;font-style:italic;-webkit-text-stroke:0.6px currentColor">mg</span></div>
<div class="t" style="left:1072.80px;top:522.21px;font-size:33.5px;line-height:33.5px;color:#fff;transform:scaleX(1.2165)"><span style="font-weight:700;font-style:italic;-webkit-text-stroke:0.5px currentColor">36mg</span></div>
<div class="t" style="left:1074.00px;top:567.92px;font-size:33.5px;line-height:33.5px;color:#fff;transform:scaleX(1.2027)"><span style="font-weight:700;font-style:italic;-webkit-text-stroke:0.5px currentColor">20mg</span></div>
<div class="t" style="left:1051.78px;top:613.63px;font-size:33.5px;line-height:33.5px;color:#fff;transform:scaleX(1.1184)"><span style="font-weight:700;font-style:italic;-webkit-text-stroke:0.5px currentColor">10.72mg</span></div>
<div class="t" style="left:1074.85px;top:659.34px;font-size:33.5px;line-height:33.5px;color:#fff;transform:scaleX(1.1545)"><span style="font-weight:700;-webkit-text-stroke:2.0px currentColor">10</span><span style="font-weight:700;font-style:italic;-webkit-text-stroke:0.6px currentColor">mg</span></div>
<div class="t" style="left:1084.05px;top:705.05px;font-size:33.5px;line-height:33.5px;color:#fff;transform:scaleX(1.2372)"><span style="font-weight:700;font-style:italic;-webkit-text-stroke:0.5px currentColor">4mg</span></div>
<div class="t" style="left:1084.30px;top:750.76px;font-size:33.5px;line-height:33.5px;color:#fff;transform:scaleX(1.1971)"><span style="font-weight:700;font-style:italic;-webkit-text-stroke:0.5px currentColor">3mg</span></div>
<div class="t" style="left:1085.49px;top:796.47px;font-size:33.5px;line-height:33.5px;color:#fff;transform:scaleX(1.1943)"><span style="font-weight:700;font-style:italic;-webkit-text-stroke:0.5px currentColor">2mg</span></div>
<div class="t" style="left:1084.00px;top:842.18px;font-size:33.5px;line-height:33.5px;color:#fff;transform:scaleX(1.2029)"><span style="font-weight:700;-webkit-text-stroke:2.0px currentColor">2</span><span style="font-weight:700;font-style:italic;-webkit-text-stroke:0.6px currentColor">mg</span></div>
<div class="t" style="left:1084.00px;top:887.89px;font-size:33.5px;line-height:33.5px;color:#fff;transform:scaleX(1.2029)"><span style="font-weight:700;-webkit-text-stroke:2.0px currentColor">2</span><span style="font-weight:700;font-style:italic;-webkit-text-stroke:0.6px currentColor">mg</span></div>
<div class="t" style="left:1070.37px;top:933.60px;font-size:33.5px;line-height:33.5px;color:#fff;transform:scaleX(1.1260)"><span style="font-weight:700;-webkit-text-stroke:2.0px currentColor">1.2</span><span style="font-weight:700;font-style:italic;-webkit-text-stroke:0.6px currentColor">mg</span></div>
<div class="t" style="left:1050.52px;top:979.31px;font-size:33.5px;line-height:33.5px;color:#fff;transform:scaleX(1.2121)"><span style="font-weight:700;font-style:italic;-webkit-text-stroke:0.5px currentColor">420mcg</span></div>
<div class="t" style="left:1048.74px;top:1025.02px;font-size:33.5px;line-height:33.5px;color:#fff;transform:scaleX(1.2390)"><span style="font-weight:700;-webkit-text-stroke:2.0px currentColor">400</span><span style="font-weight:700;font-style:italic;-webkit-text-stroke:0.6px currentColor">mcg</span></div>
<div class="t" style="left:1061.22px;top:1070.73px;font-size:33.5px;line-height:33.5px;color:#fff;transform:scaleX(1.2212)"><span style="font-weight:700;-webkit-text-stroke:2.0px currentColor">40</span><span style="font-weight:700;font-style:italic;-webkit-text-stroke:0.6px currentColor">mcg</span></div>
<div class="t" style="left:1072.76px;top:1116.44px;font-size:33.5px;line-height:33.5px;color:#fff;transform:scaleX(1.0367)"><span style="font-weight:700;font-style:italic;-webkit-text-stroke:0.5px currentColor">11mcg</span></div>
<div class="t" style="left:1064.05px;top:1162.15px;font-size:33.5px;line-height:33.5px;color:#fff;transform:scaleX(1.1469)"><span style="font-weight:700;-webkit-text-stroke:2.0px currentColor">10</span><span style="font-weight:700;font-style:italic;-webkit-text-stroke:0.6px currentColor">mcg</span></div>
<div class="t" style="left:44.12px;top:1265.12px;font-size:20.3px;line-height:20.3px;color:#737373;letter-spacing:1.6px;word-spacing:5px;transform:scaleX(1.0752)"><span style="font-weight:700;color:#5c5c5c">Inactive Ingredients: </span><span style="font-style:italic">Coconut Oil, Flaxseed Meal, Glycerin,</span></div>
<div class="t" style="left:45.20px;top:1290.82px;font-size:20.3px;line-height:20.3px;color:#737373;word-spacing:3px;transform:scaleX(1.0468)"><span style="font-style:italic">Microcrystalline Cellulose, Mixed Tocopherols, Natural Flavors, Pea Flour,</span></div>
<div class="t" style="left:45.20px;top:1318.22px;font-size:20.3px;line-height:20.3px;color:#737373;transform:scaleX(1.0581)"><span style="font-style:italic">Pea Starch, Rosemary Leaf Extract, Sunflower Lecithin and Sunflower Oil.</span></div>
<div class="t" style="left:357.68px;top:1428.02px;font-size:42.5px;line-height:42.5px;color:rgba(75,72,82,.73);letter-spacing:3.5px;transform:scaleX(1.1085)"><span style="font-weight:700;-webkit-text-stroke:0.5px currentColor">VETERINARIAN</span></div>
<div class="t" style="left:779.64px;top:1428.02px;font-size:42.5px;line-height:42.5px;color:rgba(75,72,82,.73);letter-spacing:3.5px;transform:scaleX(1.1187)"><span style="font-weight:700;-webkit-text-stroke:0.5px currentColor">FORMULATED</span></div>
</div>
</body></html>
